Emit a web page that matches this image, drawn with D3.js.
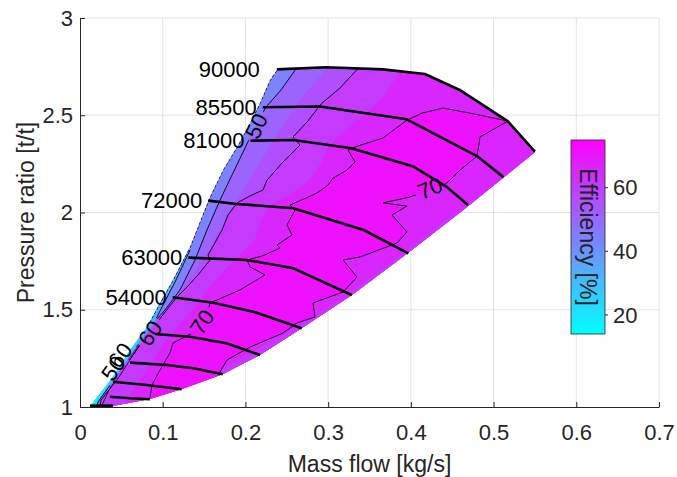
<!DOCTYPE html>
<html>
<head>
<meta charset="utf-8">
<script src="https://cdn.jsdelivr.net/npm/d3@7"></script>
<style>
body { margin: 0; background: #fff; }
text { font-family: "Liberation Sans", Arial, sans-serif; fill: #262626; }
</style>
</head>
<body>
<script>
// axis ticks
var xTicks = [0, 0.1, 0.2, 0.3, 0.4, 0.5, 0.6, 0.7];
var yTicks = [1, 1.5, 2, 2.5, 3];
var cbarTicks = [20, 40, 60];
var effRange = [14, 75];

// speed lines [mass flow, pressure ratio]
var speedNames = ["90000", "85500", "81000", "72000", "63000", "54000", "", "", "", "", ""];
var speedLines = [
  [[0.238,2.736],[0.298,2.747],[0.366,2.736],[0.417,2.712],[0.459,2.630],[0.517,2.470],[0.550,2.313]],
  [[0.221,2.541],[0.290,2.545],[0.395,2.479],[0.480,2.290],[0.512,2.181]],
  [[0.206,2.369],[0.258,2.373],[0.328,2.330],[0.403,2.236],[0.443,2.133],[0.469,2.039]],
  [[0.155,2.061],[0.189,2.044],[0.258,2.022],[0.343,1.910],[0.397,1.790]],
  [[0.131,1.768],[0.2015,1.756],[0.258,1.713],[0.3285,1.576]],
  [[0.112,1.564],[0.161,1.536],[0.2095,1.490],[0.268,1.405]],
  [[0.0907,1.375],[0.133,1.361],[0.177,1.328],[0.2176,1.267]],
  [[0.0605,1.228],[0.1048,1.216],[0.137,1.199],[0.1725,1.168]],
  [[0.040,1.130],[0.0806,1.113],[0.123,1.091]],
  [[0.036,1.053],[0.0605,1.045],[0.0846,1.040]],
  [[0.012,1.007],[0.040,1.007]]
];

// map boundary (surge edge, top speed line, choke edge)
var outline = [
  [0.0121,1.000],[0.0181,1.036],[0.0399,1.154],[0.0605,1.293],[0.0810,1.411],[0.0967,1.535],
  [0.1124,1.653],[0.1330,1.823],[0.1560,2.069],[0.1729,2.219],[0.1898,2.337],[0.2055,2.460],
  [0.2176,2.563],[0.2297,2.681],[0.2382,2.733],[0.2986,2.748],[0.3663,2.738],[0.4171,2.712],
  [0.4594,2.630],[0.5175,2.470],[0.5501,2.311],[0.4679,2.028],[0.3965,1.792],[0.3288,1.576],
  [0.2684,1.406],[0.2176,1.267],[0.1729,1.170],[0.1233,1.093],[0.0846,1.041],[0.0399,1.005]
];
var surgeEdge = [[0.0810,1.411],[0.0967,1.535],[0.1124,1.653],[0.1330,1.823],[0.1560,2.069],
  [0.1729,2.219],[0.1898,2.337],[0.2055,2.460],[0.2176,2.563],[0.2297,2.681],[0.2382,2.733]];

// efficiency iso-lines [mass flow, pressure ratio]
var eff20 = [[0.0605,1.283],[0.0399,1.149],[0.0206,1.036],[0.0181,0.974]];
var eff30 = [[0.0967,1.524],[0.0822,1.411],[0.0641,1.293],[0.0435,1.154],[0.0230,1.036],[0.0206,0.974]];
var eff40 = [[0.1330,1.807],[0.1161,1.653],[0.1016,1.535],[0.0870,1.411],[0.0677,1.293],[0.0472,1.154],[0.0254,1.036],[0.0230,0.974]];
var eff50 = [[0.2636,2.753],[0.2430,2.630],[0.2249,2.542],[0.2128,2.450],[0.1983,2.321],[0.1838,2.193],
  [0.1693,2.064],[0.1535,1.910],[0.1390,1.756],[0.1209,1.602],[0.1028,1.499],[0.0870,1.422],
  [0.0701,1.319],[0.0508,1.200],[0.0339,1.098],[0.0218,1.026],[0.0193,0.985]];
var eff55 = [[0.3047,2.763],[0.2805,2.650],[0.2624,2.558],[0.2466,2.455],[0.2309,2.347],[0.2152,2.239],
  [0.2007,2.136],[0.1862,2.038],[0.1717,1.931],[0.1572,1.817],[0.1427,1.715],[0.1270,1.617],
  [0.1088,1.524],[0.0967,1.458],[0.0846,1.396],[0.0689,1.303],[0.0520,1.206],[0.0363,1.103],
  [0.0230,1.010],[0.0218,0.974]];
var eff60 = [[0.3410,2.763],[0.3143,2.640],[0.2926,2.563],[0.2744,2.465],[0.2575,2.388],[0.2660,2.347],
  [0.2442,2.254],[0.2261,2.167],[0.2212,2.116],[0.2055,2.085],[0.1898,2.049],[0.1789,1.987],
  [0.1717,1.910],[0.1548,1.781],[0.1572,1.756],[0.1427,1.679],[0.1294,1.617],[0.1173,1.566],
  [0.1028,1.488],[0.0907,1.422],[0.0822,1.370],[0.0701,1.303],[0.0580,1.231],[0.0459,1.165],
  [0.0339,1.077],[0.0278,1.021],[0.0254,0.985]];
var eff65 = [[0.3929,2.763],[0.3688,2.604],[0.3446,2.501],[0.3204,2.424],[0.3023,2.347],[0.2902,2.244],
  [0.2781,2.167],[0.2539,2.090],[0.2297,2.038],[0.2200,1.961],[0.2116,1.859],[0.1934,1.781],
  [0.1753,1.704],[0.1596,1.627],[0.1451,1.550],[0.1306,1.473],[0.1149,1.396],[0.1003,1.319],
  [0.0870,1.231],[0.0725,1.139],[0.0580,1.046],[0.0544,0.985]];
var eff70 = [[0.0822,0.985],[0.0846,1.051],[0.0870,1.113],[0.0967,1.190],[0.1088,1.278],[0.1124,1.329],
  [0.1354,1.380],[0.1548,1.499],[0.1572,1.535],[0.1656,1.550],[0.1934,1.602],[0.2237,1.679],
  [0.2055,1.720],[0.2019,1.756],[0.2200,1.776],[0.2418,1.817],[0.2382,1.833],[0.2563,1.884],
  [0.2503,1.936],[0.2600,2.013],[0.2539,2.038],[0.2865,2.100],[0.2998,2.141],[0.3059,2.177],
  [0.3228,2.218],[0.3325,2.260],[0.3240,2.321],[0.3325,2.337],[0.3663,2.383],[0.3953,2.475],
  [0.4135,2.511],[0.4389,2.537],[0.4776,2.506],[0.5175,2.470],[0.4836,2.388],[0.4800,2.290],
  [0.4594,2.218],[0.4437,2.152],[0.4231,2.116],[0.3990,2.080],[0.3663,2.049],[0.3953,2.033],
  [0.3772,1.987],[0.3953,1.900],[0.3833,1.843],[0.3385,1.771],[0.3180,1.756],[0.3349,1.668],
  [0.3180,1.591],[0.2817,1.535],[0.2841,1.463],[0.2624,1.432],[0.2454,1.380],[0.2055,1.308],
  [0.1777,1.242],[0.1693,1.180],[0.1668,1.087]];
var chokeStrip = [[0.5622,2.321],[0.5440,2.280],[0.5078,2.167],[0.4655,2.033],[0.4231,1.900],[0.3929,1.797],
  [0.3506,1.663],[0.3204,1.571],[0.2877,1.483],[0.2599,1.406],[0.2200,1.308],[0.1813,1.221],
  [0.1451,1.149],[0.1270,1.077]];

// contour labels
var labelLevels = [50, 60, 70, 70, 60, 50];
var labelX = [0.2128, 0.0846, 0.1475, 0.4231, 0.0484, 0.0399];
var labelY = [2.445, 1.380, 1.437, 2.126, 1.267, 1.200];

var width = 677, height = 477;

var svg = d3.select("body").append("svg")
    .attr("width", width)
    .attr("height", height);

var x = d3.scaleLinear().domain([0, 0.7]).range([80, 659]);
var y = d3.scaleLinear().domain([1, 3]).range([407, 18]);
var colour = d3.scaleLinear().domain(effRange).range(["#00ffff", "#ff00ff"]);

var line = d3.line().x(function(d){ return x(d[0]); }).y(function(d){ return y(d[1]); });

//grid
svg.append("g").selectAll("line").data(xTicks.slice(1)).enter().append("line")
    .attr("x1", function(d){ return x(d); }).attr("x2", function(d){ return x(d); })
    .attr("y1", y(1)).attr("y2", y(3))
    .attr("stroke", "#e3e3e3").attr("stroke-width", 1);
svg.append("g").selectAll("line").data(yTicks.slice(1)).enter().append("line")
    .attr("y1", function(d){ return y(d); }).attr("y2", function(d){ return y(d); })
    .attr("x1", x(0)).attr("x2", x(0.7))
    .attr("stroke", "#e3e3e3").attr("stroke-width", 1);

var defs = svg.append("defs");
defs.append("clipPath").attr("id", "mapClip")
    .append("path").attr("d", line(outline) + "Z");

//polygons to one side of a boundary, cut by the map outline
function rightOf(p){
    var a = p[0], b = p[p.length - 1];
    return p.concat([[b[0], 0.8], [1.2, 0.8], [1.2, 3.3], [a[0], 3.3]]);
}
function leftOf(p){
    var a = p[0], b = p[p.length - 1];
    return p.concat([[b[0], 0.8], [-0.2, 0.8], [-0.2, a[1]]]);
}
function belowRight(p){
    var a = p[0], b = p[p.length - 1];
    return p.concat([[b[0], 0.8], [1.2, 0.8], [1.2, a[1]]]);
}
function loop(p){
    var a = p[0], b = p[p.length - 1];
    return p.concat([[b[0], 0.8], [a[0], 0.8]]);
}

var bands = [
    {poly: outline, eff: 44},
    {poly: leftOf(eff40), eff: 34},
    {poly: leftOf(eff30), eff: 25},
    {poly: leftOf(eff20), eff: 17},
    {poly: rightOf(eff50), eff: 51},
    {poly: rightOf(eff55), eff: 56},
    {poly: rightOf(eff60), eff: 61},
    {poly: rightOf(eff65), eff: 66},
    {poly: belowRight(chokeStrip), eff: 62},
    {poly: loop(eff70), eff: 71}
];

var mapG = svg.append("g").attr("clip-path", "url(#mapClip)");
mapG.selectAll(".band").data(bands).enter().append("path")
    .attr("class", "band")
    .attr("d", function(d){ return line(d.poly) + "Z"; })
    .attr("fill", function(d){ return colour(d.eff); })
    .attr("stroke", function(d){ return colour(d.eff); })
    .attr("stroke-width", 0.5);

//contour labels, rotated along their line
var contours = {40: eff40, 50: eff50, 60: eff60, 70: eff70};
var labels = labelLevels.map(function(lv, i){
    var px = x(labelX[i]), py = y(labelY[i]);
    var pts = contours[lv], best = Infinity, ang = 0;
    for (var k = 0; k < pts.length - 1; k++){
        var x1 = x(pts[k][0]), y1 = y(pts[k][1]), x2 = x(pts[k+1][0]), y2 = y(pts[k+1][1]);
        var dx = x2 - x1, dy = y2 - y1, L = dx*dx + dy*dy;
        var t = Math.max(0, Math.min(1, ((px - x1)*dx + (py - y1)*dy) / L));
        var ex = x1 + t*dx - px, ey = y1 + t*dy - py, dist = ex*ex + ey*ey;
        if (dist < best){ best = dist; ang = Math.atan2(dy, dx) * 180 / Math.PI; }
    }
    if (ang > 90) ang -= 180;
    if (ang <= -90) ang += 180;
    return {text: String(lv), px: px, py: py, ang: ang};
});

var mask = defs.append("mask").attr("id", "gaps")
    .attr("maskUnits", "userSpaceOnUse")
    .attr("x", 0).attr("y", 0).attr("width", width).attr("height", height);
mask.append("rect").attr("width", width).attr("height", height).attr("fill", "white");
mask.selectAll(".gap").data(labels).enter().append("rect")
    .attr("x", -16).attr("y", -9).attr("width", 32).attr("height", 18)
    .attr("fill", "black")
    .attr("transform", function(d){ return "translate(" + d.px + "," + d.py + ") rotate(" + d.ang + ")"; });

var contG = mapG.append("g").attr("mask", "url(#gaps)");
contG.selectAll(".iso").data([eff40, eff50, eff60, eff70]).enter().append("path")
    .attr("class", "iso")
    .attr("d", line)
    .attr("fill", "none")
    .attr("stroke", "#000")
    .attr("stroke-width", 0.9);

//ragged surge edge
mapG.append("path")
    .attr("d", line(surgeEdge))
    .attr("fill", "none")
    .attr("stroke", "#111")
    .attr("stroke-width", 1.4)
    .attr("stroke-dasharray", "3,2");

svg.selectAll(".clabel").data(labels).enter().append("text")
    .attr("class", "clabel")
    .attr("transform", function(d){ return "translate(" + d.px + "," + d.py + ") rotate(" + d.ang + ")"; })
    .attr("text-anchor", "middle")
    .attr("dy", "0.36em")
    .style("font-size", "22px")
    .style("fill", "#000")
    .text(function(d){ return d.text; });

//speed lines
svg.append("g").selectAll(".speed").data(speedLines).enter().append("path")
    .attr("class", "speed")
    .attr("d", line)
    .attr("fill", "none")
    .attr("stroke", "#000")
    .attr("stroke-width", 2.6)
    .attr("stroke-linejoin", "round");

svg.append("g").selectAll(".sname").data(speedLines).enter().append("text")
    .attr("class", "sname")
    .attr("x", function(d, i){ return x(d[0][0]) - (i === 0 ? 17 : 6); })
    .attr("y", function(d){ return y(d[0][1]); })
    .attr("dy", "0.35em")
    .attr("text-anchor", "end")
    .style("font-size", "22px")
    .style("fill", "#000")
    .text(function(d, i){ return speedNames[i]; });

//axes
var xAxis = svg.append("g")
    .attr("transform", "translate(0," + y(1) + ")")
    .call(d3.axisBottom(x).tickValues(xTicks).tickSizeInner(-5).tickSizeOuter(0).tickPadding(17)
        .tickFormat(function(d){ return d === 0 ? "0" : d3.format(".1f")(d); }));
var yAxis = svg.append("g")
    .attr("transform", "translate(" + x(0) + ",0)")
    .call(d3.axisLeft(y).tickValues(yTicks).tickSizeInner(-5).tickSizeOuter(0).tickPadding(7)
        .tickFormat(function(d){ return String(d); }));
[xAxis, yAxis].forEach(function(a){
    a.selectAll("path,line").attr("stroke", "#262626");
    a.selectAll("text").style("font-size", "22px").style("fill", "#262626")
        .style("font-family", "'Liberation Sans', Arial, sans-serif");
});

svg.append("text")
    .attr("x", (x(0) + x(0.7)) / 2).attr("y", 472)
    .attr("text-anchor", "middle")
    .style("font-size", "23px")
    .text("Mass flow [kg/s]");
svg.append("text")
    .attr("transform", "translate(34," + (y(1) + y(3)) / 2 + ") rotate(-90)")
    .attr("text-anchor", "middle")
    .style("font-size", "23px")
    .text("Pressure ratio [t/t]");

//colorbar
var cbar = d3.scaleLinear().domain(effRange).range([334, 140]);
var grad = defs.append("linearGradient").attr("id", "cbarGrad")
    .attr("x1", 0).attr("y1", 1).attr("x2", 0).attr("y2", 0);
grad.append("stop").attr("offset", 0).attr("stop-color", colour(effRange[0]));
grad.append("stop").attr("offset", 1).attr("stop-color", colour(effRange[1]));
svg.append("rect")
    .attr("x", 571).attr("y", cbar(effRange[1]))
    .attr("width", 34).attr("height", cbar(effRange[0]) - cbar(effRange[1]))
    .attr("fill", "url(#cbarGrad)")
    .attr("stroke", "#262626").attr("stroke-width", 0.8);
svg.append("g").selectAll("line").data(cbarTicks).enter().append("line")
    .attr("x1", 605).attr("x2", 608)
    .attr("y1", function(d){ return cbar(d); }).attr("y2", function(d){ return cbar(d); })
    .attr("stroke", "#262626");
svg.append("g").selectAll("text").data(cbarTicks).enter().append("text")
    .attr("x", 613).attr("y", function(d){ return cbar(d); })
    .attr("dy", "0.35em")
    .style("font-size", "22px")
    .text(function(d){ return d; });
svg.append("text")
    .attr("transform", "translate(580," + (cbar(effRange[0]) + cbar(effRange[1])) / 2 + ") rotate(90)")
    .attr("text-anchor", "middle")
    .style("font-size", "23px")
    .style("fill", "#222")
    .text("Efficiency [%]");
</script>
</body>
</html>
